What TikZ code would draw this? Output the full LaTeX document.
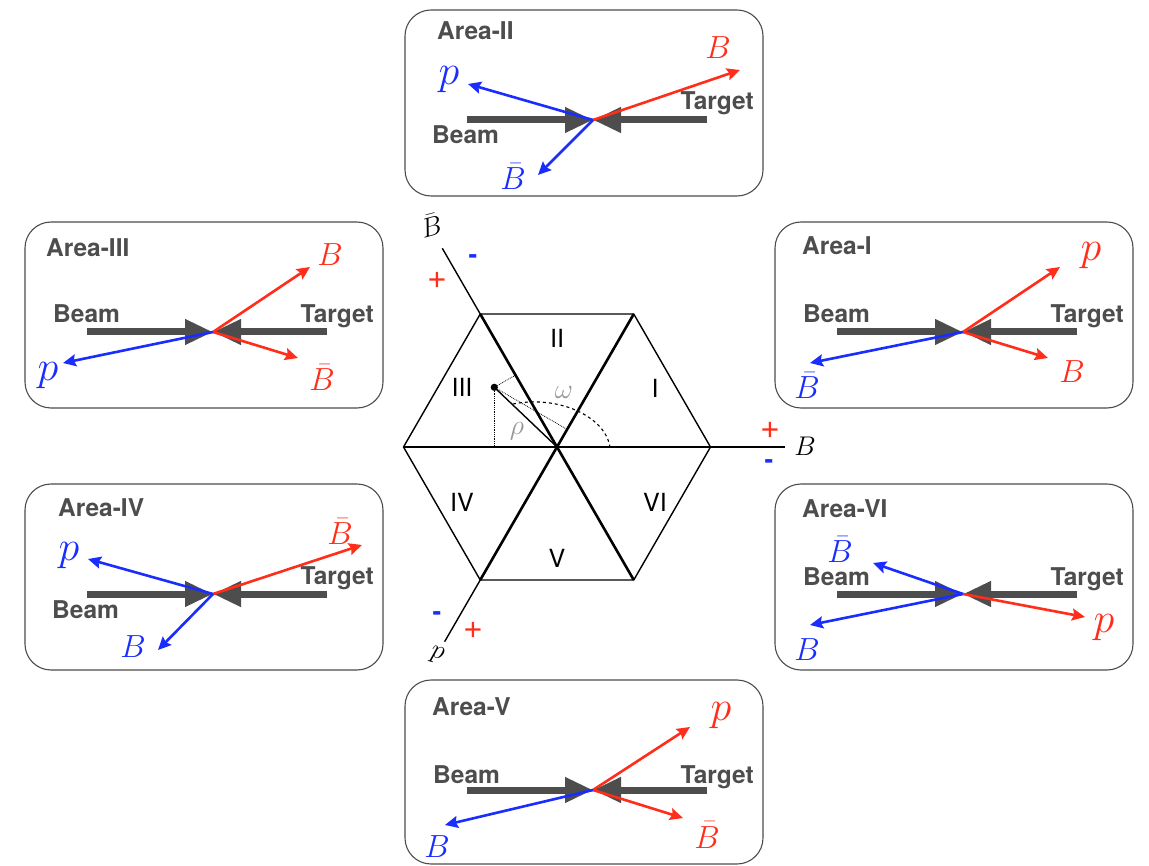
\RequirePackage{fix-cm}
\documentclass[tikz,border=0pt]{standalone}
\usepackage{fontspec}
\setsansfont{TeX Gyre Heros}
\usetikzlibrary{arrows.meta}
\definecolor{pred}{RGB}{255,45,25}
\definecolor{pblue}{RGB}{25,45,255}
\definecolor{dgray}{RGB}{77,77,77}
\definecolor{lgray}{RGB}{150,150,150}
\tikzset{
  panel/.style={draw=black!70, line width=1.1pt, rounded corners=26pt, minimum width=358pt, minimum height=186pt, inner sep=0pt},
  beamarrow/.style={draw=dgray, line width=7pt, -{Triangle[length=28pt,width=24pt]}},
  redarrow/.style={draw=pred, line width=2.6pt, -{Stealth[length=13pt,width=12pt,inset=2pt]}},
  bluearrow/.style={draw=pblue, line width=2.6pt, -{Stealth[length=13pt,width=12pt,inset=2pt]}},
  plbl/.style={font=\fontsize{32}{32}\selectfont, inner sep=0pt},
  redlbl/.style={plbl, text=pred},
  bluelbl/.style={plbl, text=pblue},
  bigp/.style={font=\fontsize{42}{42}\selectfont},
  arealbl/.style={font=\sffamily\bfseries\fontsize{24.5}{24.5}\selectfont, text=dgray, inner sep=0pt, anchor=base west},
  beamlbl/.style={font=\sffamily\bfseries\fontsize{24.5}{24.5}\selectfont, text=dgray, inner sep=0pt, anchor=base west},
  targetlbl/.style={font=\sffamily\bfseries\fontsize{24.5}{24.5}\selectfont, text=dgray, inner sep=0pt, anchor=base east},
  regionlbl/.style={font=\sffamily\fontsize{25}{25}\selectfont, inner sep=0pt},
  axislbl/.style={font=\fontsize{27}{27}\selectfont, inner sep=0pt},
  plussign/.style={font=\sffamily\fontsize{34}{34}\selectfont, text=pred, inner sep=0pt},
  minussign/.style={font=\sffamily\bfseries\fontsize{26}{26}\selectfont, text=pblue, inner sep=0pt},
  hexedge/.style={line width=1.4pt},
  hexaxis/.style={line width=2.6pt},
  axisline/.style={line width=1.4pt},
  helper/.style={line width=0.8pt, densely dotted},
  greek/.style={font=\fontsize{28}{28}\selectfont, text=lgray, inner sep=0pt}
}
\begin{document}
\begin{tikzpicture}[x=1pt,y=-1pt]
\useasboundingbox (0,0) rectangle (1149,866);

% ---------------- central hexagon ----------------
\coordinate (O) at (557,447);
\coordinate (A0) at (710.5,447);
\coordinate (A60) at (633.75,314);
\coordinate (A120) at (480.25,314);
\coordinate (A180) at (403.5,447);
\coordinate (A240) at (480.25,580);
\coordinate (A300) at (633.75,580);
\draw[hexedge, line join=round] (A0) -- (A60) -- (A120) -- (A180) -- (A240) -- (A300) -- cycle;
\draw[hexaxis] (A180) -- (A0);
\draw[hexaxis] (A120) -- (A300);
\draw[hexaxis] (A60) -- (A240);
\coordinate (EB) at (785,447);
\coordinate (EBbar) at (442.3,248.3);
\coordinate (Ep) at (444.6,641.7);
\draw[axisline] (A0) -- (EB);
\draw[axisline] (A120) -- (EBbar);
\draw[axisline] (A240) -- (Ep);
\node[axislbl] (labB) at (805,446) {$B$};
\node[axislbl, rotate=15] (labBbar) at (431,225) {$\bar{B}$};
\node[axislbl, rotate=-15] (labp) at (437,655) {$p$};

\node[plussign] (pl1) at (437,280) {+};
\node[minussign] (mi1) at (473,259) {-};
\node[plussign] (pl2) at (770,430) {+};
\node[minussign] (mi2) at (769,464) {-};
\node[plussign] (pl3) at (473,630) {+};
\node[minussign] (mi3) at (437,616) {-};

\node[regionlbl] (rI) at (655,388) {I};
\node[regionlbl] (rII) at (557,338) {II};
\node[regionlbl] (rIII) at (462,387) {III};
\node[regionlbl] (rIV) at (462,502) {IV};
\node[regionlbl] (rV) at (557,558) {V};
\node[regionlbl] (rVI) at (655,502) {VI};

% point, projections, angle
\coordinate (Pt) at (494.3,387.3);
\coordinate (Fx) at (494.3,447);
\coordinate (Fbar) at (515.4,375.2);
\coordinate (F60) at (566.8,429.2);
\draw[helper] (Pt) -- (Fx);
\draw[helper] (Pt) -- (Fbar);
\draw[helper] (Pt) -- (F60);
\draw[line width=1.4pt] (Pt) -- (O);
\fill (Pt) circle (3.6pt);
\coordinate (ArcS) at (513,404);
\coordinate (ArcE) at (610,447);
\draw[line width=1.1pt, dashed] (ArcS) .. controls (558,395) and (605,416) .. (ArcE);
\node[greek] (omega) at (564,392) {$\omega$};
\node[greek] (rho) at (517,431) {$\rho$};

% ---------------- panels ----------------
\node[panel] (boxII) at (584,103) {};
\node[panel] (boxIII) at (204,315) {};
\node[panel] (boxI) at (954,315) {};
\node[panel] (boxIV) at (204,577) {};
\node[panel] (boxVI) at (954,577) {};
\node[panel, minimum height=184pt] (boxV) at (584,772) {};

% Area-II
\coordinate (v2) at (593,120);
\coordinate (bs2) at (467,120);
\coordinate (ts2) at (707,120);
\draw[beamarrow] (bs2) -- (v2);
\draw[beamarrow] (ts2) -- (v2);
\node[arealbl] (a2) at (437,40) {Area-II};
\node[beamlbl] (b2) at (432,144) {Beam};
\node[targetlbl] (t2) at (754,110) {Target};
\coordinate (e2a) at (740,70);
\coordinate (e2b) at (468,84);
\coordinate (e2c) at (538,175);
\draw[redarrow] (v2) -- (e2a);
\draw[bluearrow] (v2) -- (e2b);
\draw[bluearrow] (v2) -- (e2c);
\node[redlbl] (l2a) at (718,48) {$B$};
\node[bluelbl, bigp] (l2b) at (449,80) {$p$};
\node[bluelbl] (l2c) at (513,177) {$\bar{B}$};

% Area-III
\coordinate (v3) at (213,332);
\coordinate (bs3) at (87,332);
\coordinate (ts3) at (327,332);
\draw[beamarrow] (bs3) -- (v3);
\draw[beamarrow] (ts3) -- (v3);
\node[arealbl] (a3) at (46,257) {Area-III};
\node[beamlbl] (b3) at (53,323) {Beam};
\node[targetlbl] (t3) at (374,323) {Target};
\coordinate (e3a) at (310,267);
\coordinate (e3b) at (298,358);
\coordinate (e3c) at (63,363);
\draw[redarrow] (v3) -- (e3a);
\draw[redarrow] (v3) -- (e3b);
\draw[bluearrow] (v3) -- (e3c);
\node[redlbl] (l3a) at (330,255) {$B$};
\node[redlbl] (l3b) at (322,378) {$\bar{B}$};
\node[bluelbl, bigp] (l3c) at (48,376) {$p$};

% Area-I
\coordinate (v1) at (963,332);
\coordinate (bs1) at (837,332);
\coordinate (ts1) at (1077,332);
\draw[beamarrow] (bs1) -- (v1);
\draw[beamarrow] (ts1) -- (v1);
\node[arealbl] (a1) at (802,255) {Area-I};
\node[beamlbl] (b1) at (803,323) {Beam};
\node[targetlbl] (t1) at (1124,323) {Target};
\coordinate (e1a) at (1060,267);
\coordinate (e1b) at (1048,358);
\coordinate (e1c) at (810,363);
\draw[redarrow] (v1) -- (e1a);
\draw[redarrow] (v1) -- (e1b);
\draw[bluearrow] (v1) -- (e1c);
\node[redlbl, bigp] (l1a) at (1091,256) {$p$};
\node[redlbl] (l1b) at (1072,372) {$B$};
\node[bluelbl] (l1c) at (807,386) {$\bar{B}$};

% Area-IV
\coordinate (v4) at (213,594);
\coordinate (bs4) at (87,594);
\coordinate (ts4) at (327,594);
\draw[beamarrow] (bs4) -- (v4);
\draw[beamarrow] (ts4) -- (v4);
\node[arealbl] (a4) at (58,516) {Area-IV};
\node[beamlbl] (b4) at (52,618) {Beam};
\node[targetlbl] (t4) at (374,584) {Target};
\coordinate (e4a) at (362,545);
\coordinate (e4b) at (88,559);
\coordinate (e4c) at (158,650);
\draw[redarrow] (v4) -- (e4a);
\draw[bluearrow] (v4) -- (e4b);
\draw[bluearrow] (v4) -- (e4c);
\node[redlbl] (l4a) at (340,532) {$\bar{B}$};
\node[bluelbl, bigp] (l4b) at (69,556) {$p$};
\node[bluelbl] (l4c) at (133,647) {$B$};

% Area-VI
\coordinate (v6) at (963,594);
\coordinate (bs6) at (837,594);
\coordinate (ts6) at (1077,594);
\draw[beamarrow] (bs6) -- (v6);
\draw[beamarrow] (ts6) -- (v6);
\node[arealbl] (a6) at (802,517) {Area-VI};
\node[beamlbl] (b6) at (803,585) {Beam};
\node[targetlbl] (t6) at (1124,585) {Target};
\coordinate (e6a) at (873,563);
\coordinate (e6b) at (810,625);
\coordinate (e6c) at (1085,617);
\draw[bluearrow] (v6) -- (e6a);
\draw[bluearrow] (v6) -- (e6b);
\draw[redarrow] (v6) -- (e6c);
\node[bluelbl] (l6a) at (840,550) {$\bar{B}$};
\node[bluelbl] (l6b) at (807,650) {$B$};
\node[redlbl, bigp] (l6c) at (1104,628) {$p$};

% Area-V
\coordinate (v5) at (593,790);
\coordinate (bs5) at (467,790);
\coordinate (ts5) at (707,790);
\draw[beamarrow] (bs5) -- (v5);
\draw[beamarrow] (ts5) -- (v5);
\node[arealbl] (a5) at (432,715) {Area-V};
\node[beamlbl] (b5) at (433,783) {Beam};
\node[targetlbl] (t5) at (754,783) {Target};
\coordinate (e5a) at (690,727);
\coordinate (e5b) at (683,818);
\coordinate (e5c) at (445,825);
\draw[redarrow] (v5) -- (e5a);
\draw[redarrow] (v5) -- (e5b);
\draw[bluearrow] (v5) -- (e5c);
\node[redlbl, bigp] (l5a) at (721,716) {$p$};
\node[redlbl] (l5b) at (707,835) {$\bar{B}$};
\node[bluelbl] (l5c) at (437,847) {$B$};
\end{tikzpicture}
\end{document}
